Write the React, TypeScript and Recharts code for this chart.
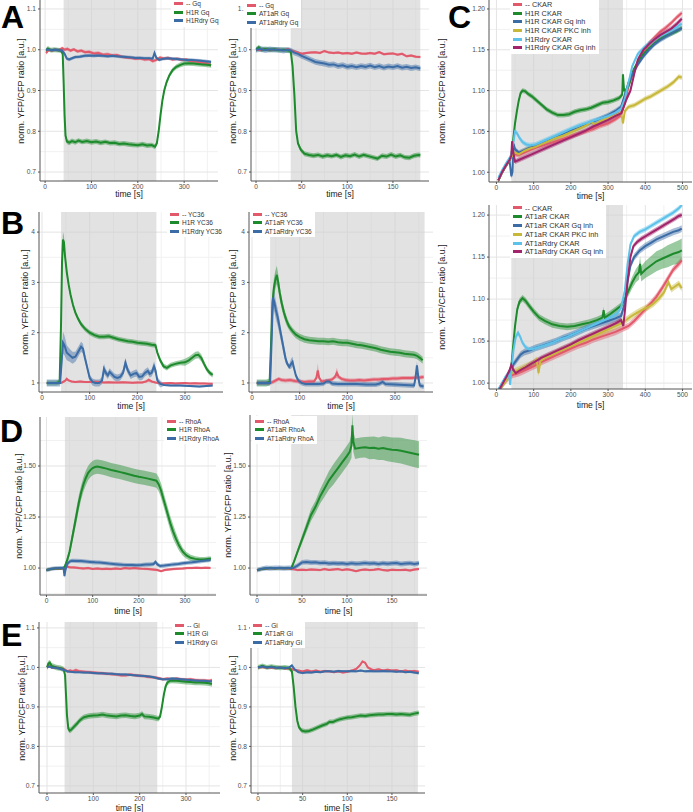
import React from "react";
import { ComposedChart, Line, Area, XAxis, YAxis, CartesianGrid, ReferenceArea } from "recharts";

// each point: [time s, mean, optional half-width of the ribbon]
type Pt = number[];

const FONT = "'Liberation Sans', Arial, sans-serif";
const RED = "#e2596b";
const GREEN = "#1d8a2c";
const BLUE = "#3b6ca6";
const YELLOW = "#c8b83a";
const CYAN = "#5cc2ea";
const MAGENTA = "#a2246b";

// ---------- A: Gq ----------
const aLeftRed: Pt[] = [[2,.992],[8,1.0],[15,.998],[22,1.0],[30,.999],[37,1.004],[42,1.0],[48,1.002],[55,.998],[62,1.001],[70,.996],[78,.998],[86,.994],[95,.995],[105,.991],[115,.992],[125,.988],[135,.989],[145,.986],[155,.987],[165,.983],[175,.981],[185,.98],[195,.978],[205,.979],[215,.976],[225,.977],[232,.972],[240,.975],[248,.981],[256,.978],[265,.98],[275,.976],[285,.978],[295,.975],[305,.976],[315,.972],[325,.971],[335,.969],[345,.967],[352,.965],[358,.962]];
const aLeftGreen: Pt[] = [[2,.998],[6,1.003],[12,.999],[20,1.0],[28,.999],[34,.998],[38,.99],[40,.92],[42,.84],[44,.79],[47,.775],[52,.772],[58,.776],[65,.773],[72,.777],[80,.774],[90,.776],[100,.773],[110,.775],[120,.772],[130,.774],[140,.771],[150,.772],[160,.769],[170,.77],[180,.768],[190,.767],[200,.766],[210,.768],[220,.765],[230,.766],[237,.762],[241,.77],[245,.8],[249,.84],[253,.875],[257,.9],[262,.92],[268,.937],[275,.95],[283,.958],[292,.963],[300,.966],[310,.967],[320,.966],[330,.965],[340,.964],[350,.963],[358,.962]];
const aLeftBlue: Pt[] = [[2,1.0],[8,1.0],[15,.999],[22,1.0],[30,.999],[37,.998],[42,.99],[47,.978],[52,.976],[58,.979],[65,.982],[75,.983],[85,.985],[95,.986],[105,.985],[115,.986],[125,.985],[135,.984],[145,.985],[155,.984],[165,.983],[175,.982],[185,.981],[195,.98],[205,.98],[215,.979],[225,.979],[232,.978],[236,.992],[240,.98],[246,.975],[255,.978],[265,.979],[275,.978],[285,.977],[295,.976],[305,.975],[315,.975],[325,.974],[335,.973],[345,.972],[352,.971],[358,.97]];

const aRightRed: Pt[] = [[0,1.0],[5,.999],[10,1.001],[15,.999],[20,1.0],[25,1.0],[30,.999],[35,1.001],[38,.999],[42,.996],[46,.993],[50,.99],[55,.992],[60,.993],[65,.994],[70,.992],[75,.997],[80,.993],[85,.992],[90,.993],[95,.991],[100,.992],[105,.99],[110,.993],[115,.991],[120,.99],[125,.992],[130,.99],[135,.994],[140,.989],[145,.99],[150,.991],[155,.988],[160,.99],[165,.984],[170,.986],[175,.983],[180,.982]];
const aRightGreen: Pt[] = [[0,1.0],[3,1.006],[6,1.0],[10,1.002],[15,1.0],[20,1.001],[25,.999],[30,1.0],[35,.998],[38,.997],[40,.96],[42,.89],[44,.8],[46,.77],[49,.755],[53,.745],[58,.742],[63,.74],[68,.742],[73,.738],[78,.741],[83,.739],[88,.742],[93,.737],[98,.741],[103,.739],[108,.743],[113,.738],[118,.742],[123,.739],[128,.736],[133,.733],[138,.74],[143,.738],[148,.743],[153,.738],[158,.741],[163,.736],[168,.735],[173,.74],[178,.742],[180,.741]];
const aRightBlue: Pt[] = [[0,1.0],[5,1.002],[10,.999],[15,1.001],[20,1.0],[25,1.0],[30,.998],[35,1.0],[38,.998],[42,.993],[46,.99],[50,.985],[55,.98],[60,.975],[65,.97],[70,.968],[75,.966],[80,.963],[85,.964],[90,.96],[95,.962],[100,.958],[105,.96],[110,.957],[115,.96],[120,.958],[125,.961],[130,.957],[135,.96],[140,.956],[145,.959],[150,.957],[155,.96],[160,.956],[165,.958],[170,.955],[175,.957],[180,.954]];

// ---------- B: YC36 ----------
const bLeftRed: Pt[] = [[10,1.0],[20,1.0],[30,1.0],[38,1.0],[42,1.01],[48,1.04],[52,1.08,.04],[56,1.05],[62,1.03],[70,1.02],[80,1.03],[90,1.02],[100,1.02],[110,1.025],[120,1.02],[130,1.01],[140,1.015],[150,1.01],[160,1.01],[170,1.015],[180,1.01],[190,1.005],[200,1.01],[210,1.01],[218,1.03],[224,1.06,.04],[230,1.03],[238,1.01],[244,1.0],[250,.99],[260,.995],[270,1.0],[280,.99],[290,.995],[300,1.0],[310,.99],[320,.995],[330,.99],[340,.99],[350,.985],[358,.985]];
const bLeftGreen: Pt[] = [[10,1.0],[20,1.0],[30,1.0],[37,1.02],[40,2.2,.1],[42,3.4,.14],[44,3.85,.15],[46,3.8,.13],[48,3.55,.1],[52,3.2,.08],[56,2.95,.07],[60,2.75],[65,2.55],[70,2.4],[76,2.27],[82,2.17],[90,2.08],[100,2.0],[110,1.95],[120,1.92],[130,1.92],[140,1.93],[150,1.9],[160,1.87],[170,1.85],[180,1.83],[190,1.82],[200,1.8],[210,1.79],[220,1.78],[230,1.76],[238,1.75],[242,1.6],[248,1.45],[255,1.33],[262,1.3],[270,1.35],[280,1.38],[290,1.4],[300,1.41,.07],[308,1.45,.07],[315,1.5,.07],[322,1.55,.07],[328,1.56,.07],[334,1.5,.07],[340,1.38,.06],[346,1.27],[352,1.2],[358,1.16]];
const bLeftBlue: Pt[] = [[10,1.0],[20,1.0],[30,1.0],[38,1.0],[41,1.4,.15],[44,1.8,.22],[47,1.75,.2],[52,1.6,.15],[58,1.55,.13],[64,1.5,.12],[70,1.52,.1],[76,1.62,.1],[82,1.72,.1],[86,1.68,.1],[90,1.5],[95,1.3],[100,1.1],[106,1.02],[112,1.0],[120,1.0],[126,1.05],[130,1.28,.1],[134,1.2],[138,1.15],[142,1.22],[146,1.18],[152,1.12],[158,1.1],[164,1.12],[170,1.2],[175,1.4,.1],[180,1.25],[186,1.15],[192,1.18],[198,1.2],[204,1.12],[210,1.13],[216,1.2],[222,1.24],[226,1.18],[230,1.2],[235,1.33,.1],[238,1.25],[242,1.05],[248,.98],[256,.96,.02],[270,.95,.02],[290,.95,.02],[310,.94,.02],[330,.93,.02],[345,.94,.02],[358,.95,.02]];

const bRightRed: Pt[] = [[10,1.0],[20,1.0],[30,1.0],[38,1.0],[44,1.02],[50,1.05],[56,1.08],[62,1.06],[70,1.05],[80,1.06],[90,1.04],[100,1.03],[110,1.02],[120,1.03],[130,1.03],[135,1.1],[138,1.25,.14],[141,1.1],[146,1.03],[152,1.04],[160,1.05],[168,1.07],[174,1.12],[178,1.2,.1],[182,1.12],[188,1.08],[196,1.06],[205,1.05],[215,1.05],[225,1.06],[235,1.05],[245,1.06],[255,1.07],[265,1.07],[275,1.08],[285,1.08],[295,1.09],[305,1.09],[315,1.1],[325,1.1],[335,1.1],[345,1.11],[352,1.11],[360,1.12]];
const bRightGreen: Pt[] = [[10,1.0],[20,1.0],[30,1.0],[37,1.02],[40,1.8,.12],[43,2.6,.17],[46,2.9,.18],[49,3.05,.18],[52,3.15,.18],[55,3.0,.16],[58,2.8,.14],[62,2.6,.12],[67,2.4,.1],[72,2.25,.09],[78,2.12],[85,2.03],[92,1.96],[100,1.91],[110,1.87],[120,1.85],[130,1.84],[140,1.83],[150,1.83],[160,1.82],[170,1.83],[180,1.81],[190,1.8],[200,1.8],[210,1.78],[220,1.76],[230,1.75],[240,1.73],[250,1.71],[260,1.69],[270,1.66],[280,1.64],[290,1.62],[300,1.61],[310,1.6],[320,1.58],[330,1.57],[340,1.56],[346,1.54],[352,1.5],[358,1.45]];
const bRightBlue: Pt[] = [[10,1.0],[20,1.0],[30,1.0],[38,1.0],[41,1.8,.15],[44,2.7,.2],[47,2.6,.2],[50,2.45,.18],[54,2.3,.17],[58,2.1,.15],[62,1.9,.13],[66,1.7,.12],[70,1.5,.1],[74,1.38],[78,1.32],[82,1.38,.1],[85,1.42,.1],[88,1.3],[92,1.15],[97,1.05],[104,1.0],[112,.98],[120,.98],[130,.98],[140,.98],[150,.99],[156,1.03],[162,1.03],[168,.99],[180,.98],[200,.98],[220,.98],[240,.97],[260,.97],[268,.99],[274,1.02],[280,.98],[300,.97],[320,.96],[340,.95],[343,1.1],[346,1.35,.08],[349,1.1],[352,.95],[360,.93]];

// ---------- C: CKAR ----------
const cTopRed: Pt[] = [[5,.99],[15,1.0],[25,1.008],[35,1.015],[42,1.02],[50,1.022],[60,1.021],[75,1.024],[90,1.027],[105,1.03],[120,1.032],[140,1.035],[160,1.038],[180,1.041],[200,1.044],[220,1.047],[240,1.05],[260,1.053],[280,1.057],[300,1.06],[320,1.065],[335,1.07],[345,1.085],[355,1.105],[365,1.12],[380,1.135],[395,1.148],[410,1.158],[425,1.165],[440,1.172],[455,1.177],[470,1.183],[485,1.19],[498,1.195]];
const cTopGreen: Pt[] = [[5,.99],[15,1.0],[25,1.008],[35,1.015],[40,1.02],[45,1.04],[50,1.06],[55,1.075],[60,1.088],[65,1.097],[70,1.1],[78,1.099],[85,1.096],[95,1.093],[105,1.089],[115,1.085],[125,1.081],[135,1.077],[150,1.073],[165,1.07],[180,1.07],[195,1.071],[210,1.074],[225,1.076],[240,1.077],[255,1.079],[270,1.082],[285,1.085],[300,1.086],[315,1.088],[330,1.091],[338,1.095],[340,1.12],[343,1.1],[350,1.1],[358,1.11],[368,1.125],[380,1.135],[395,1.145],[410,1.152],[425,1.158],[440,1.163],[455,1.167],[470,1.17],[485,1.173],[498,1.177]];
const cTopBlue: Pt[] = [[5,.99],[15,1.0],[25,1.008],[35,1.015],[40,.995],[43,1.0],[46,1.035],[50,1.028],[60,1.024],[75,1.027],[90,1.03],[105,1.032],[120,1.035],[140,1.039],[160,1.043],[180,1.047],[200,1.051],[220,1.054],[240,1.058],[260,1.062],[280,1.066],[300,1.07],[320,1.075],[335,1.08],[345,1.095],[355,1.11],[365,1.12],[380,1.132],[395,1.142],[410,1.15],[425,1.157],[440,1.162],[455,1.166],[470,1.17],[485,1.174],[498,1.176]];
const cTopYellow: Pt[] = [[5,.99],[15,1.0],[25,1.008],[35,1.015],[42,1.02],[50,1.024],[60,1.022],[75,1.026],[90,1.029],[105,1.031],[120,1.034],[140,1.038],[160,1.042],[180,1.045],[200,1.049],[220,1.053],[240,1.057],[255,1.062],[265,1.058],[280,1.063],[300,1.066],[320,1.07],[335,1.073],[340,1.06],[345,1.075],[355,1.08],[370,1.082],[385,1.086],[400,1.09],[415,1.093],[430,1.097],[445,1.101],[460,1.105],[475,1.11],[490,1.117],[498,1.116]];
const cTopCyan: Pt[] = [[5,.993],[15,1.002],[25,1.01],[35,1.017],[40,1.022],[45,1.035],[50,1.05],[55,1.048],[62,1.042],[70,1.037],[80,1.034],[90,1.033],[105,1.034],[120,1.037],[140,1.041],[160,1.045],[180,1.049],[200,1.053],[220,1.057],[240,1.06],[260,1.063],[280,1.066],[300,1.069],[320,1.073],[335,1.078],[345,1.09],[355,1.11],[365,1.13],[380,1.145],[395,1.152],[410,1.158],[425,1.163],[440,1.167],[455,1.17],[470,1.174],[485,1.178],[498,1.182]];
const cTopMagenta: Pt[] = [[5,.99],[15,1.0],[25,1.008],[35,1.015],[40,1.02],[42,1.038],[45,1.025],[50,1.013],[60,1.015],[75,1.018],[90,1.021],[105,1.024],[120,1.027],[140,1.031],[160,1.035],[180,1.039],[200,1.043],[220,1.047],[240,1.051],[260,1.056],[280,1.06],[300,1.064],[320,1.069],[335,1.072],[342,1.08],[350,1.09],[360,1.1],[370,1.12],[380,1.138],[395,1.15],[410,1.157],[425,1.163],[440,1.168],[455,1.172],[470,1.176],[485,1.182],[498,1.188]];

const cBotRed: Pt[] = [[5,.99],[15,.998],[25,1.003],[35,1.008],[45,1.01],[60,1.012],[75,1.015],[90,1.018],[105,1.021],[120,1.025],[140,1.029],[160,1.033],[180,1.037],[200,1.041],[220,1.045],[240,1.048],[260,1.052],[280,1.055],[300,1.058],[320,1.061],[340,1.065],[355,1.068],[370,1.074],[385,1.081],[400,1.088],[415,1.095],[430,1.103],[445,1.113],[460,1.124],[475,1.135],[490,1.142],[498,1.146]];
const cBotGreen: Pt[] = [[5,.99],[15,.998],[25,1.005],[35,1.012],[40,1.02],[44,1.04],[50,1.068],[56,1.088],[62,1.097],[70,1.101],[78,1.098],[88,1.092],[100,1.085],[115,1.078],[130,1.074],[150,1.07],[170,1.068],[190,1.067],[210,1.068],[230,1.07],[250,1.072],[270,1.075],[285,1.078],[288,1.087],[291,1.078],[305,1.082],[320,1.087],[335,1.092],[345,1.1],[355,1.11,.006],[365,1.12,.007],[375,1.128,.008],[383,1.132,.009],[386,1.142,.009],[389,1.13,.009],[400,1.135,.01],[415,1.14,.011],[430,1.145,.012],[445,1.148,.012],[460,1.151,.013],[475,1.154,.013],[490,1.156,.014],[498,1.158,.014]];
const cBotBlue: Pt[] = [[5,.99],[15,.998],[25,1.005],[35,1.012],[40,1.015],[45,1.022],[55,1.028],[65,1.034],[75,1.037],[90,1.039],[105,1.042],[120,1.044],[140,1.047],[160,1.05],[180,1.054],[200,1.057],[220,1.061],[240,1.065],[260,1.068],[280,1.071],[300,1.074],[320,1.077],[335,1.08],[345,1.095],[352,1.12],[360,1.14],[370,1.15],[385,1.158],[400,1.163],[415,1.167],[430,1.171],[445,1.174],[460,1.177],[475,1.18],[490,1.182],[498,1.184]];
const cBotYellow: Pt[] = [[5,.99],[15,.997],[25,1.003],[35,1.009],[45,1.013],[60,1.016],[75,1.019],[90,1.022],[100,1.024],[108,1.028],[113,1.012],[118,1.026],[130,1.03],[150,1.034],[170,1.038],[190,1.042],[210,1.046],[230,1.05],[250,1.054],[270,1.058],[290,1.062],[310,1.066],[330,1.07],[345,1.074],[360,1.079],[375,1.083],[390,1.087],[405,1.09],[420,1.094],[435,1.1],[450,1.108],[462,1.12],[470,1.112],[480,1.115],[490,1.118],[498,1.113]];
const cBotCyan: Pt[] = [[5,.992],[15,1.0],[25,1.008],[33,1.012],[37,.998],[41,1.02],[46,1.04],[52,1.055],[58,1.06],[64,1.055],[70,1.048],[78,1.043],[88,1.04],[100,1.041],[115,1.043],[130,1.045],[150,1.048],[170,1.052],[190,1.055],[210,1.059],[230,1.063],[250,1.067],[270,1.071],[290,1.075],[310,1.079],[325,1.083],[335,1.09],[345,1.11],[352,1.14],[360,1.165],[370,1.175],[385,1.18],[400,1.183],[415,1.187],[430,1.191],[445,1.195],[460,1.199],[475,1.203],[490,1.208],[498,1.212]];
const cBotMagenta: Pt[] = [[5,.99],[15,.998],[25,1.006],[35,1.015],[40,1.022],[45,1.016],[52,1.012],[62,1.015],[75,1.018],[90,1.022],[105,1.026],[120,1.03],[140,1.034],[160,1.038],[180,1.042],[200,1.046],[220,1.051],[240,1.055],[260,1.059],[280,1.063],[300,1.067],[320,1.071],[335,1.075],[341,1.068],[345,1.085],[352,1.12],[360,1.15],[368,1.163],[378,1.168],[390,1.172],[405,1.176],[420,1.18],[435,1.184],[450,1.188],[465,1.192],[480,1.196],[490,1.199],[498,1.2]];

// ---------- D: RhoA ----------
const dLeftRed: Pt[] = [[0,.99],[10,.995],[20,.998],[30,.997],[38,1.0],[44,1.008],[50,1.004],[60,1.003],[70,1.0],[80,.998],[90,1.0],[100,.996],[110,.998],[120,.995],[130,.997],[140,.995],[150,.998],[160,.996],[170,1.0],[180,.998],[190,1.0],[200,.998],[210,.996],[220,.995],[230,.993],[240,.99],[248,.985],[256,.99],[265,.993],[275,.995],[285,.997],[295,.998],[305,1.0],[315,1.0],[325,1.002],[335,1.0],[345,1.002],[355,1.0]];
const dLeftGreen: Pt[] = [[0,.99,.006],[10,.995,.006],[20,.998,.006],[30,.998,.006],[37,1.0,.006],[40,1.01,.01],[45,1.04,.015],[50,1.08,.02],[55,1.14,.025],[60,1.2,.03],[65,1.26],[70,1.32],[75,1.37],[80,1.41],[85,1.44],[90,1.465],[95,1.48],[100,1.49],[105,1.495],[110,1.497],[120,1.493],[130,1.487],[140,1.48],[150,1.475],[160,1.47],[170,1.464],[180,1.458],[190,1.452],[200,1.447],[210,1.443],[220,1.438],[230,1.433],[238,1.428],[243,1.41],[248,1.38],[253,1.34],[258,1.3],[263,1.26],[268,1.22],[274,1.18],[280,1.145,.03],[287,1.11,.025],[295,1.08,.02],[303,1.062,.017],[312,1.05,.015],[322,1.045,.013],[332,1.042,.012],[342,1.042,.012],[352,1.045,.012],[356,1.045,.012]];
const dLeftBlue: Pt[] = [[0,.99],[10,.996],[20,.999],[30,1.0],[37,1.0],[39,.96],[41,.99],[45,1.02],[50,1.032],[55,1.036],[65,1.035],[75,1.034],[85,1.032],[95,1.03],[105,1.028],[115,1.027],[125,1.025],[135,1.022],[145,1.02],[155,1.018],[165,1.016],[175,1.015],[185,1.015],[195,1.014],[205,1.015],[215,1.017],[225,1.018],[232,1.02],[236,1.03],[240,1.018],[246,1.01],[255,1.012],[265,1.015],[275,1.018],[285,1.02],[295,1.023],[305,1.026],[315,1.028],[325,1.031],[335,1.034],[345,1.037],[355,1.04]];

const dRightRed: Pt[] = [[0,.99],[5,.995],[10,.997],[15,1.0],[20,.998],[25,1.0],[30,.999],[35,.998],[40,.995],[45,.99],[50,.992],[55,.99],[60,.993],[65,.992],[70,.99],[75,.995],[80,.991],[85,.993],[90,.995],[95,.99],[100,.994],[105,.99],[110,.985],[115,.99],[120,.993],[125,.99],[130,.992],[135,.995],[140,.99],[145,.988],[150,.992],[155,.99],[160,.99],[165,.992],[170,.988],[175,.993],[180,.995]];
const dRightGreen: Pt[] = [[0,.99,.006],[5,.995,.006],[10,.998,.006],[15,1.0,.006],[20,.998,.006],[25,1.0,.006],[30,.999,.006],[35,1.0,.006],[38,.998,.006],[41,1.03,.01],[45,1.08,.015],[50,1.14,.02],[55,1.2,.025],[60,1.26,.03],[65,1.3,.03],[70,1.35,.035],[75,1.39,.04],[80,1.43,.045],[85,1.46,.05],[90,1.49,.05],[95,1.52,.05],[100,1.55,.05],[103,1.57,.05],[105,1.6,.06],[106,1.7,.06],[107,1.62,.05],[109,1.585,.05],[115,1.59,.05],[120,1.592,.05],[125,1.588,.055],[130,1.59,.055],[135,1.585,.055],[140,1.588,.058],[145,1.583,.06],[150,1.58,.06],[155,1.578,.062],[160,1.575,.063],[165,1.57,.064],[170,1.565,.065],[175,1.56,.066],[180,1.555,.066]];
const dRightBlue: Pt[] = [[0,.99],[5,.996],[10,1.0],[15,.999],[20,1.0],[25,1.0],[30,.999],[35,1.0],[40,1.0],[45,1.012],[50,1.028],[55,1.03],[60,1.027],[65,1.028],[70,1.025],[75,1.026],[80,1.022],[85,1.024],[90,1.022],[95,1.023],[100,1.02],[105,1.024],[110,1.021],[115,1.022],[120,1.025],[125,1.022],[130,1.024],[135,1.02],[140,1.024],[145,1.021],[150,1.023],[155,1.025],[160,1.02],[165,1.022],[170,1.024],[175,1.02],[180,1.024]];

// ---------- E: Gi ----------
const eLeftRed: Pt[] = [[0,1.0],[5,1.005],[10,1.0],[20,1.0],[30,.997],[38,.995],[44,.99],[50,.992],[56,.99],[62,.993],[70,.99],[80,.989],[90,.988],[100,.987],[110,.986],[120,.985],[130,.984],[140,.983],[150,.982],[160,.98],[170,.98],[180,.982],[190,.98],[200,.979],[210,.978],[220,.976],[230,.975],[240,.973],[250,.97],[260,.972],[270,.97],[280,.972],[290,.97],[300,.969],[310,.97],[320,.968],[330,.967],[340,.967],[350,.966],[356,.968]];
const eLeftGreen: Pt[] = [[0,1.0],[3,1.01],[6,1.012],[10,1.004],[20,1.0],[30,.998],[36,.995],[39,.98],[41,.93],[43,.88],[46,.845],[49,.84],[52,.842],[56,.847],[60,.852],[65,.858],[70,.865],[75,.87],[80,.874],[90,.877],[100,.878],[110,.879],[120,.881],[130,.878],[140,.877],[150,.876],[160,.878],[170,.879],[180,.877],[190,.876],[200,.878],[205,.882],[210,.876],[220,.875],[230,.873],[240,.87],[244,.875],[248,.9],[252,.93],[256,.952],[260,.962],[265,.966],[270,.967],[280,.966],[290,.965],[300,.964],[310,.963],[320,.962],[330,.962],[340,.961],[350,.96],[356,.958]];
const eLeftBlue: Pt[] = [[0,1.0],[5,1.002],[10,1.0],[20,.999],[30,.996],[38,.993],[44,.99],[50,.989],[60,.988],[70,.988],[80,.987],[90,.987],[100,.986],[110,.985],[120,.985],[130,.984],[140,.984],[150,.983],[160,.982],[170,.982],[180,.981],[190,.98],[200,.979],[210,.978],[220,.977],[230,.975],[240,.972],[250,.97],[260,.97],[270,.972],[280,.971],[290,.97],[300,.969],[310,.968],[320,.967],[330,.966],[340,.966],[350,.965],[356,.965]];

const eRightRed: Pt[] = [[0,1.0],[5,1.001],[10,.999],[15,1.0],[20,.998],[25,1.0],[30,.997],[35,.998],[40,.994],[45,.992],[50,.99],[55,.993],[60,.99],[65,.992],[70,.989],[75,.991],[80,.99],[85,.988],[90,.99],[95,.987],[100,.989],[105,.992],[110,.996],[114,1.005],[117,1.015],[120,1.012],[123,1.0],[127,.995],[130,.993],[135,.995],[140,.992],[145,.994],[150,.992],[155,.993],[160,.99],[165,.992],[170,.99],[175,.991],[180,.989]];
const eRightGreen: Pt[] = [[0,1.0],[5,1.004],[10,1.0],[15,1.002],[20,1.0],[25,.999],[30,1.0],[35,.998],[38,.99],[40,.95],[42,.9],[44,.865],[46,.848],[49,.84],[53,.838],[57,.839],[62,.843],[67,.848],[72,.853],[77,.857],[80,.862],[84,.862],[88,.866],[92,.869],[96,.871],[100,.873],[105,.874],[110,.876],[115,.878],[120,.877],[125,.879],[130,.88],[135,.881],[140,.881],[145,.882],[150,.882],[155,.881],[160,.882],[165,.881],[170,.88],[175,.883],[180,.885]];
const eRightBlue: Pt[] = [[0,1.0],[5,1.002],[10,1.0],[15,1.001],[20,.999],[25,1.0],[30,.998],[35,1.0],[38,1.005],[41,.995],[45,.988],[50,.986],[55,.988],[60,.987],[65,.989],[70,.988],[75,.99],[80,.99],[85,.989],[90,.991],[95,.99],[100,.99],[105,.991],[110,.99],[115,.992],[120,.99],[125,.991],[130,.99],[135,.99],[140,.991],[145,.99],[150,.99],[155,.989],[160,.99],[165,.988],[170,.989],[175,.987],[180,.985]];

// axis ticks
const ticks360 = [0, 100, 200, 300];
const minor360 = [50, 150, 250, 350];
const ticks180 = [0, 50, 100, 150];
const minor180 = [25, 75, 125, 175];
const ticks500 = [0, 100, 200, 300, 400, 500];
const minor500 = [50, 150, 250, 350, 450];
const ticksGq = [0.7, 0.8, 0.9, 1.0, 1.1];
const minorGq = [0.75, 0.85, 0.95, 1.05];
const ticksYC = [1, 2, 3, 4];
const minorYC = [1.5, 2.5, 3.5];
const ticksCK = [1.0, 1.05, 1.1, 1.15, 1.2];
const minorCK = [1.025, 1.075, 1.125, 1.175];
const ticksRho = [1.0, 1.25, 1.5];
const minorRho = [0.875, 1.125, 1.375, 1.625];

type Series = { name: string; color: string; pts: Pt[]; se: number };

function toRows(pts: Pt[], se: number) {
  return pts.map((p) => {
    const s = p.length > 2 ? p[2] : se;
    return { t: p[0], v: p[1], band: [p[1] - s, p[1] + s] };
  });
}

type PanelProps = {
  x: number; y: number; w: number; h: number;
  xDomain: number[]; yDomain: number[];
  xTicks: number[]; xMinor: number[];
  yTicks: number[]; yMinor: number[];
  yDigits: number;
  shade: number[];
  series: Series[];
  legendX: number; legendY: number; legendFs: number; rowH: number;
  yTitleX: number; xTitleY: number;
};

const YW = 40;
const XH = 22;
const MR = 2;

function Panel(p: PanelProps) {
  const tick = { fontSize: 6.6, fill: "#4d4d4d", fontFamily: FONT };
  const axisLine = { stroke: "#555", strokeWidth: 1 };
  return (
    <>
      <div style={{ position: "absolute", left: p.x - YW, top: p.y }}>
        <ComposedChart width={YW + p.w + MR} height={p.h + XH} margin={{ top: 0, right: MR, bottom: 0, left: 0 }}>
          <CartesianGrid horizontalValues={p.yMinor} verticalValues={p.xMinor} stroke="#f1f1f1" />
          <CartesianGrid horizontalValues={p.yTicks} verticalValues={p.xTicks} stroke="#e4e4e4" />
          <ReferenceArea x1={p.shade[0]} x2={p.shade[1]} fill="#cfcfcf" fillOpacity={0.6} stroke="none" ifOverflow="hidden" />
          <XAxis
            type="number"
            dataKey="t"
            domain={p.xDomain}
            ticks={p.xTicks}
            allowDataOverflow
            height={XH}
            tick={tick}
            tickSize={2}
            tickMargin={1}
            axisLine={axisLine}
            tickLine={axisLine}
          />
          <YAxis
            type="number"
            domain={p.yDomain}
            ticks={p.yTicks}
            allowDataOverflow
            width={YW}
            tick={tick}
            tickSize={2}
            tickMargin={2}
            axisLine={axisLine}
            tickLine={axisLine}
            tickFormatter={(v: number) => v.toFixed(p.yDigits)}
          />
          {p.series.map((s) => (
            <Area
              key={"a" + s.name}
              data={toRows(s.pts, s.se)}
              dataKey="band"
              stroke="none"
              fill={s.color}
              fillOpacity={0.45}
              dot={false}
              activeDot={false}
              isAnimationActive={false}
            />
          ))}
          {p.series.map((s) => (
            <Line
              key={"l" + s.name}
              data={toRows(s.pts, s.se)}
              dataKey="v"
              stroke={s.color}
              strokeWidth={2}
              dot={false}
              activeDot={false}
              isAnimationActive={false}
            />
          ))}
        </ComposedChart>
      </div>
      <div
        style={{
          position: "absolute",
          left: p.legendX - 3,
          top: p.legendY - p.rowH / 2 - 1,
          background: "#fff",
          padding: "1px 3px 2px 3px",
          fontFamily: FONT,
          fontSize: p.legendFs,
          color: "#333",
        }}
      >
        {p.series.map((s) => (
          <div key={s.name} style={{ display: "flex", alignItems: "center", height: p.rowH, whiteSpace: "nowrap" }}>
            <span style={{ display: "inline-block", width: 9, height: 3, background: s.color, marginRight: 3 }} />
            {s.name}
          </div>
        ))}
      </div>
      <div
        style={{
          position: "absolute",
          left: p.yTitleX,
          top: p.y + p.h / 2,
          transform: "translate(-50%, -50%) rotate(-90deg)",
          whiteSpace: "nowrap",
          fontFamily: FONT,
          fontSize: 9,
          color: "#1a1a1a",
        }}
      >
        norm. YFP/CFP ratio [a.u.]
      </div>
      <div
        style={{
          position: "absolute",
          left: p.x + p.w / 2,
          top: p.xTitleY,
          transform: "translate(-50%, -50%)",
          whiteSpace: "nowrap",
          fontFamily: FONT,
          fontSize: 8.6,
          color: "#1a1a1a",
        }}
      >
        time [s]
      </div>
    </>
  );
}

function Letter({ x, y, text }: { x: number; y: number; text: string }) {
  return (
    <div style={{ position: "absolute", left: x, top: y - 4, fontFamily: FONT, fontWeight: 700, fontSize: 32, lineHeight: 1, color: "#000" }}>
      {text}
    </div>
  );
}

const gqDomain = [0.678, 1.122];
const giDomain = [0.682, 1.115];

export default function App() {
  const common = { legendFs: 6.5, rowH: 8.5 };
  return (
    <div style={{ position: "absolute", left: 0, top: 0, width: 693, height: 812, background: "#fff", overflow: "hidden" }}>
      {/* A */}
      <Panel {...common} x={40} y={0} w={178} h={181} xDomain={[-11, 373]} yDomain={gqDomain}
        xTicks={ticks360} xMinor={minor360} yTicks={ticksGq} yMinor={minorGq} yDigits={1} shade={[40, 240]}
        series={[
          { name: "-- Gq", color: RED, pts: aLeftRed, se: 0.004 },
          { name: "H1R Gq", color: GREEN, pts: aLeftGreen, se: 0.006 },
          { name: "H1Rdry Gq", color: BLUE, pts: aLeftBlue, se: 0.004 },
        ]}
        legendX={174} legendY={3.5} yTitleX={21} xTitleY={194} />
      <Panel {...common} x={251} y={0} w={178} h={181} xDomain={[-5.5, 189.5]} yDomain={gqDomain}
        xTicks={ticks180} xMinor={minor180} yTicks={ticksGq} yMinor={minorGq} yDigits={1} shade={[38, 180]}
        series={[
          { name: "-- Gq", color: RED, pts: aRightRed, se: 0.003 },
          { name: "AT1aR Gq", color: GREEN, pts: aRightGreen, se: 0.006 },
          { name: "AT1aRdry Gq", color: BLUE, pts: aRightBlue, se: 0.007 },
        ]}
        legendX={247} legendY={5} yTitleX={233} xTitleY={194} />
      {/* B */}
      <Panel {...common} x={39} y={212} w={184} h={180} xDomain={[-6.3, 379.7]} yDomain={[0.82, 4.4]}
        xTicks={ticks360} xMinor={minor360} yTicks={ticksYC} yMinor={minorYC} yDigits={0} shade={[40, 240]}
        series={[
          { name: "-- YC36", color: RED, pts: bLeftRed, se: 0.02 },
          { name: "H1R YC36", color: GREEN, pts: bLeftGreen, se: 0.05 },
          { name: "H1Rdry YC36", color: BLUE, pts: bLeftBlue, se: 0.07 },
        ]}
        legendX={170} legendY={214} yTitleX={25} xTitleY={406} />
      <Panel {...common} x={249} y={212} w={184} h={180} xDomain={[-6.3, 379.7]} yDomain={[0.82, 4.4]}
        xTicks={ticks360} xMinor={minor360} yTicks={ticksYC} yMinor={minorYC} yDigits={0} shade={[38, 362]}
        series={[
          { name: "-- YC36", color: RED, pts: bRightRed, se: 0.04 },
          { name: "AT1aR YC36", color: GREEN, pts: bRightGreen, se: 0.07 },
          { name: "AT1aRdry YC36", color: BLUE, pts: bRightBlue, se: 0.05 },
        ]}
        legendX={253} legendY={214} yTitleX={233} xTitleY={406} />
      {/* C */}
      <Panel legendFs={7.3} rowH={8.7} x={489} y={0} w={203} h={182} xDomain={[-20, 525.5]} yDomain={[0.988, 1.211]}
        xTicks={ticks500} xMinor={minor500} yTicks={ticksCK} yMinor={minorCK} yDigits={2} shade={[40, 340]}
        series={[
          { name: "-- CKAR", color: RED, pts: cTopRed, se: 0.003 },
          { name: "H1R CKAR", color: GREEN, pts: cTopGreen, se: 0.003 },
          { name: "H1R CKAR Gq inh", color: BLUE, pts: cTopBlue, se: 0.003 },
          { name: "H1R CKAR PKC inh", color: YELLOW, pts: cTopYellow, se: 0.003 },
          { name: "H1Rdry CKAR", color: CYAN, pts: cTopCyan, se: 0.003 },
          { name: "H1Rdry CKAR Gq inh", color: MAGENTA, pts: cTopMagenta, se: 0.003 },
        ]}
        legendX={513} legendY={4.5} yTitleX={442} xTitleY={196} />
      <Panel legendFs={7.3} rowH={8.8} x={489} y={205} w={203} h={184} xDomain={[-20, 525.5]} yDomain={[0.993, 1.212]}
        xTicks={ticks500} xMinor={minor500} yTicks={ticksCK} yMinor={minorCK} yDigits={2} shade={[40, 340]}
        series={[
          { name: "-- CKAR", color: RED, pts: cBotRed, se: 0.004 },
          { name: "AT1aR CKAR", color: GREEN, pts: cBotGreen, se: 0.004 },
          { name: "AT1aR CKAR Gq inh", color: BLUE, pts: cBotBlue, se: 0.004 },
          { name: "AT1aR CKAR PKC inh", color: YELLOW, pts: cBotYellow, se: 0.004 },
          { name: "AT1aRdry CKAR", color: CYAN, pts: cBotCyan, se: 0.003 },
          { name: "AT1aRdry CKAR Gq inh", color: MAGENTA, pts: cBotMagenta, se: 0.003 },
        ]}
        legendX={513} legendY={208} yTitleX={442} xTitleY={405} />
      {/* D */}
      <Panel {...common} x={40} y={417} w={176} h={178} xDomain={[-14, 367]} yDomain={[0.868, 1.74]}
        xTicks={ticks360} xMinor={minor360} yTicks={ticksRho} yMinor={minorRho} yDigits={2} shade={[40, 240]}
        series={[
          { name: "-- RhoA", color: RED, pts: dLeftRed, se: 0.006 },
          { name: "H1R RhoA", color: GREEN, pts: dLeftGreen, se: 0.035 },
          { name: "H1Rdry RhoA", color: BLUE, pts: dLeftBlue, se: 0.01 },
        ]}
        legendX={167} legendY={421} yTitleX={19} xTitleY={611} />
      <Panel {...common} x={250} y={415} w={177} h={180} xDomain={[-7.8, 188.9]} yDomain={[0.868, 1.75]}
        xTicks={ticks180} xMinor={minor180} yTicks={ticksRho} yMinor={minorRho} yDigits={2} shade={[38, 179]}
        series={[
          { name: "-- RhoA", color: RED, pts: dRightRed, se: 0.006 },
          { name: "AT1aR RhoA", color: GREEN, pts: dRightGreen, se: 0.03 },
          { name: "AT1aRdry RhoA", color: BLUE, pts: dRightBlue, se: 0.012 },
        ]}
        legendX={255} legendY={421} yTitleX={228} xTitleY={611} />
      {/* E */}
      <Panel {...common} x={39} y={622} w={181} h={171} xDomain={[-17.3, 373.4]} yDomain={giDomain}
        xTicks={ticks360} xMinor={minor360} yTicks={ticksGq} yMinor={minorGq} yDigits={1} shade={[38, 238]}
        series={[
          { name: "-- Gi", color: RED, pts: eLeftRed, se: 0.004 },
          { name: "H1R Gi", color: GREEN, pts: eLeftGreen, se: 0.007 },
          { name: "H1Rdry Gi", color: BLUE, pts: eLeftBlue, se: 0.003 },
        ]}
        legendX={175} legendY={625} yTitleX={22} xTitleY={808} />
      <Panel {...common} x={251} y={622} w={174} h={171} xDomain={[-7.8, 187]} yDomain={giDomain}
        xTicks={ticks180} xMinor={minor180} yTicks={ticksGq} yMinor={minorGq} yDigits={1} shade={[38, 179]}
        series={[
          { name: "-- Gi", color: RED, pts: eRightRed, se: 0.003 },
          { name: "AT1aR Gi", color: GREEN, pts: eRightGreen, se: 0.006 },
          { name: "AT1aRdry Gi", color: BLUE, pts: eRightBlue, se: 0.003 },
        ]}
        legendX={253} legendY={625} yTitleX={233} xTitleY={808} />

      <Letter x={1} y={5} text="A" />
      <Letter x={1} y={211} text="B" />
      <Letter x={448} y={5} text="C" />
      <Letter x={0} y={419} text="D" />
      <Letter x={1} y={623} text="E" />
    </div>
  );
}
